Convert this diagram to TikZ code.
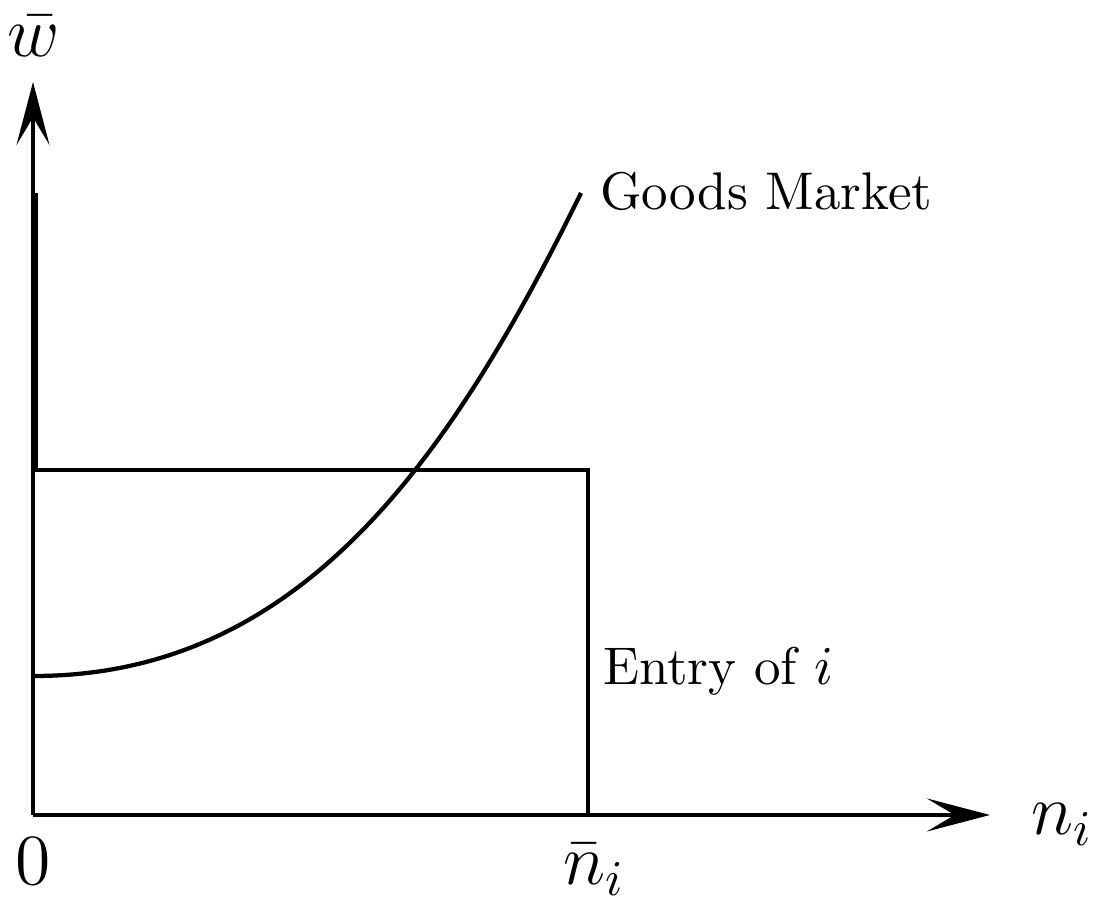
\documentclass[tikz,border=0pt]{standalone}
\usetikzlibrary{arrows.meta}
\begin{document}
\begin{tikzpicture}[x=0.2pt,y=-0.2pt,line width=0.85pt,
  axis/.style={-{Stealth[length=12.6pt,width=6.6pt,inset=5.5pt]}},
  lbl/.style={inner sep=0pt,anchor=base west,font=\fontsize{10.6}{12.7}\selectfont},
  mlbl/.style={inner sep=0pt,font=\fontsize{14.4}{17}\selectfont}]
\useasboundingbox (0,0) rectangle (1094,900);
\coordinate (O) at (33,815);
\coordinate (ytip) at (33,82);
\coordinate (xtip) at (990,815);
\coordinate (TL) at (33,470);
\coordinate (TR) at (588,470);
\coordinate (BR) at (588,815);
\coordinate (vtop) at (36.5,193);
\coordinate (vbot) at (36.5,470);
\coordinate (cs) at (34,676);
\coordinate (ce) at (581,193);
% axes
\draw[axis] (O) -- (ytip);
\draw[axis] (O) -- (xtip);
% extra vertical segment
\draw[line width=0.7pt] (vtop) -- (vbot);
% entry box
\draw (TL) -- (TR) -- (BR);
% goods market curve
\draw (cs) .. controls (300,676) and (450,460) .. (ce);
% labels
\node[mlbl,anchor=base] (wlab) at (34,57) {$\bar{w}$};
\node[mlbl,anchor=base west] (nlab) at (1029,835) {$n_i$};
\node[mlbl,anchor=base west] (zero) at (13,885) {$0$};
\node[mlbl,anchor=base west] (nbar) at (561,885) {$\bar{n}_i$};
\node[lbl] (goods) at (598,210) {Goods Market};
\node[lbl] (entry) at (601,685) {Entry of $i$};
\end{tikzpicture}
\end{document}
